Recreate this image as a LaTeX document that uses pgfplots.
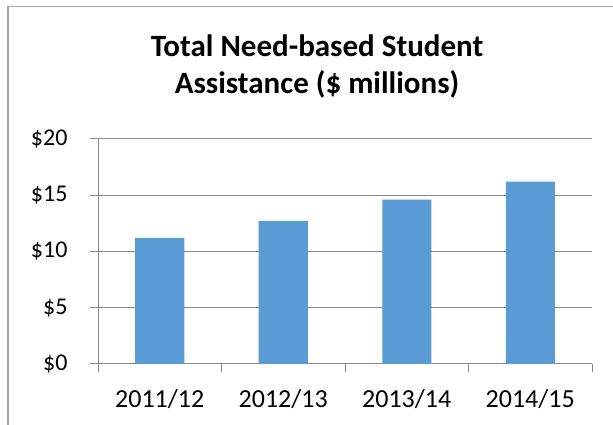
\documentclass[border=0pt]{standalone}
\usepackage{fontspec}
\setmainfont{Carlito}
\usepackage{pgfplots}
\pgfplotsset{compat=1.18}
\definecolor{barblue}{HTML}{5B9BD5}
\definecolor{gridgray}{HTML}{898989}
\definecolor{framegray}{HTML}{A6A6A6}
\begin{document}
\begin{tikzpicture}[x=1pt,y=1pt]
\useasboundingbox (0,0) rectangle (613,425);
\draw[framegray, line width=2pt] (8,-20) -- (8,418);
\draw[framegray, line width=1pt] (7,418) -- (640,418);
\node[font=\bfseries\fontsize{31}{37}\selectfont, anchor=base] at (317,368.3) {Total Need-based Student};
\node[font=\bfseries\fontsize{31}{37}\selectfont, anchor=base] at (317,331.7) {Assistance (\$ millions)};
\begin{axis}[
  at={(98pt,61pt)}, anchor=south west,
  scale only axis, width=494pt, height=225.3pt,
  xmin=-0.5, xmax=3.5, ymin=0, ymax=20,
  axis x line=bottom, axis y line=left,
  axis line style={gridgray, line width=1pt, -},
  ytick={0,5,10,15,20},
  yticklabel={\$\pgfmathprintnumber{\tick}},
  /pgf/number format/assume math mode=true,
  ymajorgrids, grid style={gridgray, line width=1pt},
  tick align=outside, major tick length=8pt,
  tick style={gridgray, line width=1pt},
  xtick={-0.5,0.5,1.5,2.5,3.5}, xticklabels={},
  extra x ticks={0,1,2,3},
  extra x tick labels={2011/12,2012/13,2013/14,2014/15},
  extra x tick style={major tick length=0pt, xticklabel style={yshift=-22pt}},
  xticklabel style={font=\fontsize{26}{30}\selectfont, text=black},
  yticklabel style={font=\fontsize{24}{28}\selectfont, text=black, xshift=-19pt},
  ybar, bar width=49pt,
]
\addplot[fill=barblue, draw=none] coordinates {(0,11.2) (1,12.7) (2,14.6) (3,16.2)};
\end{axis}
\end{tikzpicture}
\end{document}
